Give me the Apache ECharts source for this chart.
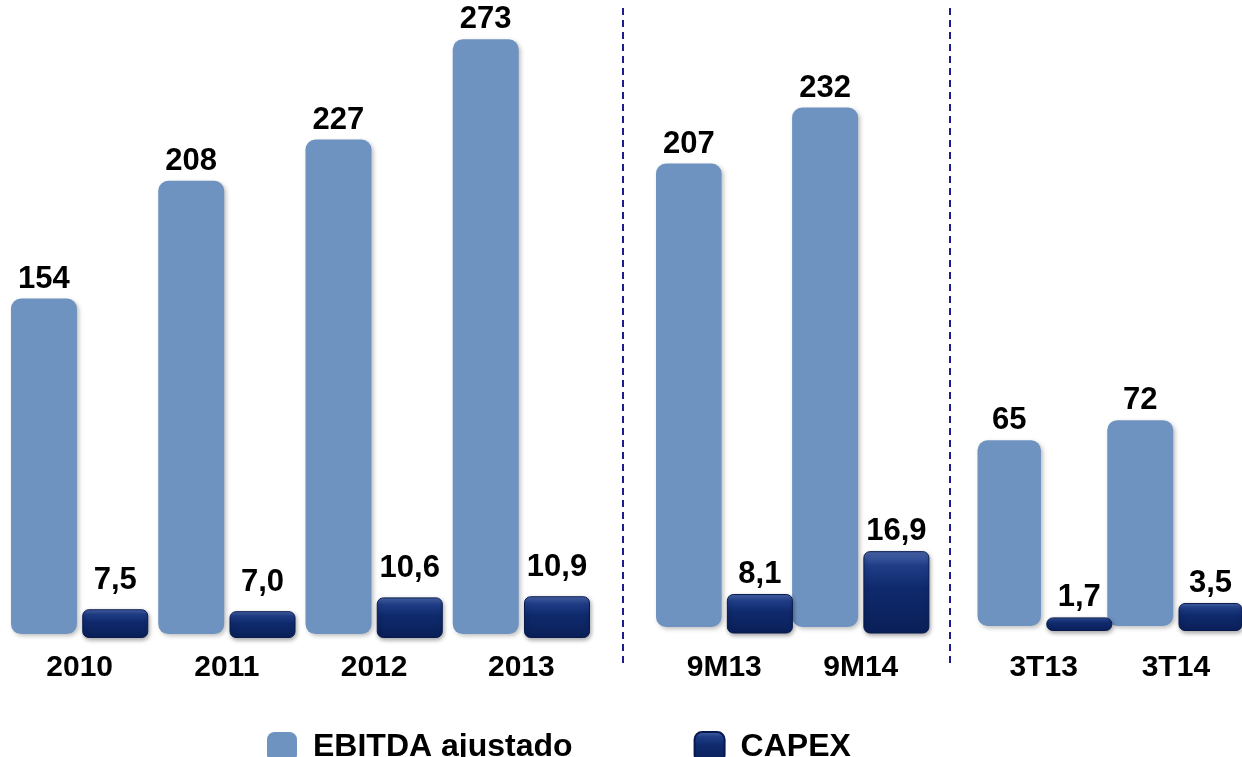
<!DOCTYPE html>
<html>
<head>
<meta charset="utf-8">
<title>EBITDA ajustado y CAPEX</title>
<script src="https://cdn.jsdelivr.net/npm/echarts@6/dist/echarts.min.js"></script>
<style>
  html, body { margin: 0; padding: 0; background: #fff; }
  #chart { width: 1242px; height: 757px; }
</style>
</head>
<body>
<div id="chart"></div>
<script>
// annual figures
var yearCats = ['2010', '2011', '2012', '2013']
var yearEbitda = [154, 208, 227, 273]
var yearCapex = [7.5, 7.0, 10.6, 10.9]
// nine months
var nineCats = ['9M13', '9M14']
var nineEbitda = [207, 232]
var nineCapex = [8.1, 16.9]
// third quarter
var quarterCats = ['3T13', '3T14']
var quarterEbitda = [65, 72]
var quarterCapex = [1.7, 3.5]

var FONT = '"Liberation Sans", Arial, sans-serif'
var EBITDA_COLOR = '#6f93c0'
var CAPEX_COLOR = new echarts.graphic.LinearGradient(0, 0, 0, 1, [
  { offset: 0, color: '#4a68ad' },
  { offset: 0.18, color: '#1f3c86' },
  { offset: 0.45, color: '#0f2a6c' },
  { offset: 1, color: '#0a1f58' }
])

var chart = echarts.init(document.getElementById('chart'))

function capexLabel(p) {
  return p.value.toFixed(1).replace('.', ',')
}

function xAxisFor(idx, cats, margin) {
  return {
    type: 'category',
    gridIndex: idx,
    data: cats,
    axisLine: { show: false },
    axisTick: { show: false },
    axisLabel: {
      margin: margin,
      color: '#000',
      fontSize: 30,
      fontWeight: 'bold',
      fontFamily: FONT
    }
  }
}

function yAxisFor(idx, min, max) {
  return { type: 'value', gridIndex: idx, min: min, max: max, show: false }
}

function ebitdaSeries(idx, data) {
  return {
    name: 'EBITDA ajustado',
    type: 'bar',
    xAxisIndex: idx,
    yAxisIndex: idx * 2,
    data: data,
    barWidth: 66,
    barGap: '8%',
    itemStyle: {
      color: EBITDA_COLOR,
      borderRadius: 10,
      shadowColor: 'rgba(0,0,0,0.25)',
      shadowBlur: 4,
      shadowOffsetX: 2,
      shadowOffsetY: 2
    },
    label: {
      show: true,
      position: 'top',
      distance: 4,
      color: '#000',
      fontSize: 31,
      fontWeight: 'bold',
      fontFamily: FONT
    }
  }
}

function capexSeries(idx, data, dist) {
  return {
    name: 'CAPEX',
    type: 'bar',
    xAxisIndex: idx,
    yAxisIndex: idx * 2 + 1,
    data: data,
    barWidth: 66,
    barGap: '8%',
    itemStyle: {
      color: CAPEX_COLOR,
      borderRadius: 6,
      borderColor: '#081a4d',
      borderWidth: 1,
      shadowColor: 'rgba(0,0,0,0.35)',
      shadowBlur: 4,
      shadowOffsetX: 1,
      shadowOffsetY: 2
    },
    label: {
      show: true,
      position: 'top',
      distance: dist,
      color: '#000',
      fontSize: 31,
      fontWeight: 'bold',
      fontFamily: FONT,
      formatter: capexLabel
    }
  }
}

function divider(x) {
  return {
    type: 'line',
    shape: { x1: x, y1: 8, x2: x, y2: 668 },
    style: { stroke: '#1c1c8f', lineWidth: 2, lineDash: [7, 5] }
  }
}

chart.setOption({
  animation: false,
  backgroundColor: '#fff',
  legend: {
    data: ['EBITDA ajustado', 'CAPEX'],
    left: 262,
    top: 726,
    itemWidth: 30,
    itemHeight: 30,
    itemGap: 121,
    icon: 'roundRect',
    textStyle: {
      color: '#000',
      fontSize: 32,
      fontWeight: 'bold',
      fontFamily: FONT,
      padding: [0, 0, 0, 11]
    }
  },
  grid: [
    { left: 6, width: 589, top: 0, bottom: 119 },
    { left: 656, width: 273, top: 0, bottom: 123.5 },
    { left: 977.5, width: 272, top: 0, bottom: 126 }
  ],
  xAxis: [
    xAxisFor(0, yearCats, 15),
    xAxisFor(1, nineCats, 19),
    xAxisFor(2, quarterCats, 22)
  ],
  yAxis: [
    yAxisFor(0, -1.8, 291), yAxisFor(0, 0, 166.6),
    yAxisFor(1, -2.9, 280), yAxisFor(1, 0, 130),
    yAxisFor(2, -1.75, 219), yAxisFor(2, 0, 79)
  ],
  series: [
    ebitdaSeries(0, yearEbitda), capexSeries(0, yearCapex, 13),
    ebitdaSeries(1, nineEbitda), capexSeries(1, nineCapex, 4),
    ebitdaSeries(2, quarterEbitda), capexSeries(2, quarterCapex, 4)
  ],
  graphic: [divider(623), divider(950)]
})
</script>
</body>
</html>
